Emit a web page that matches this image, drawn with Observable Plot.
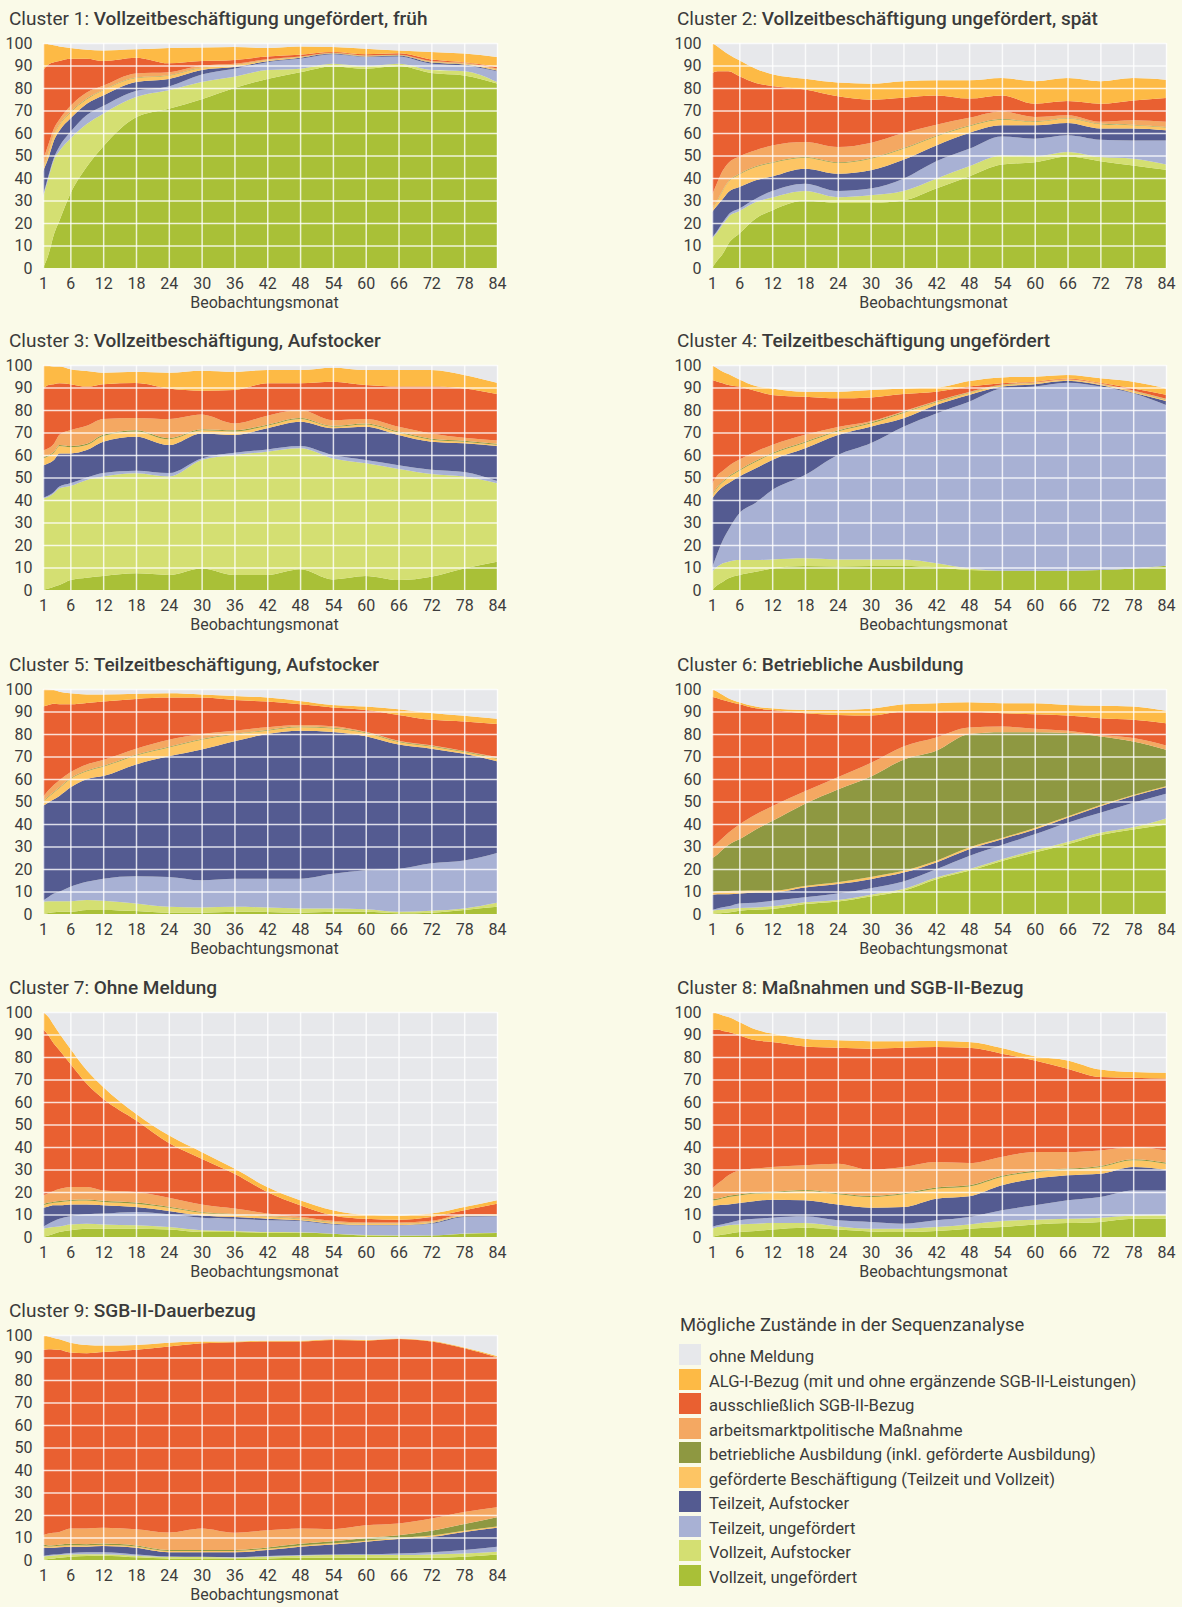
<!DOCTYPE html>
<html><head><meta charset="utf-8">
<script src="https://cdn.jsdelivr.net/npm/d3@7"></script>
<script src="https://cdn.jsdelivr.net/npm/@observablehq/plot@0.6"></script>
<style>
body{margin:0;background:#fafae8;}
#page{position:relative;width:1182px;height:1607px;background:#fafae8;font-family:Roboto,sans-serif;color:#3c3c3c;overflow:hidden;}
.title{position:absolute;font-size:19px;line-height:19px;white-space:nowrap;color:#3a3a3a;}
.title b{font-weight:500;}
.panel{position:absolute;}
.lg-title{position:absolute;left:680px;top:1316px;font-size:18.4px;line-height:18px;white-space:nowrap;color:#3a3a3a;}
.sw{position:absolute;left:679px;width:22px;height:21px;}
.lg{position:absolute;left:709px;font-size:16.6px;line-height:16px;white-space:nowrap;color:#3a3a3a;}
</style></head>
<body><div id="page"></div>
<script>
const months = [1, 2, 3, 4, 6, 9, 12, 18, 24, 30, 36, 42, 48, 54, 60, 66, 72, 78, 84];
// Zustände von unten nach oben gestapelt
const states = [
  "Vollzeit, ungefördert",
  "Vollzeit, Aufstocker",
  "Teilzeit, ungefördert",
  "Teilzeit, Aufstocker",
  "geförderte Beschäftigung (Teilzeit und Vollzeit)",
  "betriebliche Ausbildung (inkl. geförderte Ausbildung)",
  "arbeitsmarktpolitische Maßnahme",
  "ausschließlich SGB-II-Bezug",
  "ALG-I-Bezug (mit und ohne ergänzende SGB-II-Leistungen)",
  "ohne Meldung"
];
const colors = ["#a9c037", "#d4df72", "#a8b1d4", "#545b91", "#fdc564", "#8e9841", "#f4a862", "#e96031", "#fdba45", "#e7e8eb"];
const xTicks = [1, 6, 12, 18, 24, 30, 36, 42, 48, 54, 60, 66, 72, 78, 84];
const yTicks = [0, 10, 20, 30, 40, 50, 60, 70, 80, 90, 100];
const clusterNames = ["Cluster 1:", "Cluster 2:", "Cluster 3:", "Cluster 4:", "Cluster 5:", "Cluster 6:", "Cluster 7:", "Cluster 8:", "Cluster 9:"];
const clusterTitles = [
  "Vollzeitbeschäftigung ungefördert, früh",
  "Vollzeitbeschäftigung ungefördert, spät",
  "Vollzeitbeschäftigung, Aufstocker",
  "Teilzeitbeschäftigung ungefördert",
  "Teilzeitbeschäftigung, Aufstocker",
  "Betriebliche Ausbildung",
  "Ohne Meldung",
  "Maßnahmen und SGB-II-Bezug",
  "SGB-II-Dauerbezug"
];
const legendTitle = "Mögliche Zustände in der Sequenzanalyse";
const axisLabel = "Beobachtungsmonat";

// Obere Kante jedes Zustands (kumulierte Anteile in %), je Monat, Reihenfolge wie states[0..8]
const c1 = [
  [0, 31.5, 32.3, 43, 44.5, 44.8, 48, 88, 100],
  [6, 40, 41, 49, 51, 51.3, 55, 90.5, 99.5],
  [15, 48, 49, 56.7, 59, 59.3, 62, 91.5, 99],
  [21, 52, 54, 61, 63.5, 63.8, 66, 92, 98.5],
  [33, 57.5, 60.4, 66.4, 69, 69.3, 72, 93, 97.8],
  [45, 64, 68, 73, 75, 75.3, 78, 93, 97],
  [54, 68.6, 72, 76.7, 79, 79.2, 81, 92, 96.7],
  [67, 76, 78.7, 82.7, 84.5, 84.7, 86.5, 93.5, 97.2],
  [70.8, 79, 80.7, 84, 85.5, 85.7, 87, 91, 97.8],
  [75, 82.7, 86, 88, 89, 89.1, 90, 92, 98],
  [80, 85, 88.6, 89.3, 90, 90.1, 90.8, 92.5, 98.2],
  [84, 88, 91.5, 91.9, 92.3, 92.4, 92.8, 94, 97.8],
  [87, 88.6, 93, 93.5, 93.8, 93.9, 94, 94.8, 98.5],
  [89.6, 90.8, 95, 95.3, 95.5, 95.6, 95.7, 96, 98.2],
  [88.6, 89.6, 93.8, 94, 94.3, 94.4, 94.5, 95, 97.5],
  [89.8, 90.8, 94, 94.4, 94.6, 94.7, 94.8, 95.4, 96.7],
  [86.7, 88, 90.8, 91.3, 91.6, 91.7, 92, 92.7, 96],
  [85.6, 87.5, 90, 90.5, 90.8, 90.9, 91.2, 91.5, 95.3],
  [82, 82.7, 87.5, 87.8, 88.2, 88.3, 88.7, 89.5, 93.8]
];
const c2 = [
  [0, 13, 13.5, 24.9, 26.4, 26.7, 32.3, 86.7, 100],
  [3.4, 16, 16.7, 27.9, 30, 30.3, 38.2, 87.5, 98.5],
  [6.4, 19.4, 20.4, 30.8, 34.5, 34.8, 43.4, 87.4, 96.7],
  [10.8, 22.7, 23.7, 33.8, 38.2, 38.5, 46.7, 87.4, 95],
  [15.3, 25.3, 26.4, 36, 41.6, 41.9, 49.6, 85.2, 92.3],
  [22, 29.3, 30.8, 39, 44.9, 45.2, 52.3, 82.2, 88.6],
  [25.6, 31.3, 34.2, 40.7, 46.7, 47, 54.5, 80.9, 86.1],
  [30, 34.2, 37.5, 44.1, 49, 49.3, 56, 79.3, 84.1],
  [28.9, 31.5, 34.2, 41.9, 46.7, 47, 53.8, 76.3, 82.4],
  [28.9, 32.3, 35.3, 43.4, 48.6, 48.9, 55.6, 74.8, 81.9],
  [30, 34.2, 39.7, 48.1, 53, 53.3, 60, 75.7, 83],
  [35.3, 39.7, 47.4, 54.5, 58.5, 58.8, 63.7, 76.7, 83.4],
  [40.7, 45.2, 53, 60, 63, 63.3, 66.8, 75.3, 83.4],
  [46, 50, 58.5, 63.4, 65.9, 66.2, 69.6, 76.7, 84.4],
  [47, 49.6, 57.5, 63.4, 64.9, 65.2, 67.1, 73, 83],
  [49.6, 51.6, 59, 64.4, 66.4, 66.7, 67.9, 74.2, 84.4],
  [47.5, 49.3, 57, 62, 63.9, 64.2, 65, 73, 83],
  [45.6, 48.6, 56.7, 62, 63.4, 63.7, 65.7, 74.5, 84.4],
  [43.7, 46, 56.7, 61.2, 62.4, 62.7, 65, 75.6, 83.7]
];
const c3 = [
  [0, 40.7, 41, 55.3, 58.5, 59, 62, 89.6, 100],
  [0.7, 41.5, 42, 56.3, 59.5, 60, 63, 91.1, 99.7],
  [1.5, 43, 43.6, 57.8, 61, 61.5, 65, 91.5, 99.3],
  [2.2, 45.2, 46, 60.7, 64, 64.5, 69, 91.9, 99.3],
  [4.4, 46.2, 47.4, 60.7, 63.5, 64, 71, 91.5, 98.1],
  [5.5, 48.9, 50, 62.2, 64.5, 65, 73, 90.4, 97.3],
  [6.2, 50.4, 52, 65.9, 68.5, 69, 76, 91.5, 96.6],
  [7.4, 51.9, 53, 68.1, 70.5, 71, 76.5, 92, 97],
  [6.7, 50.4, 52, 64.4, 67, 67.5, 76, 89.6, 96.6],
  [9.6, 57.8, 58.5, 69.6, 71, 71.5, 78, 88.6, 97.5],
  [6.7, 60, 61, 68.9, 70.5, 71, 74, 88.9, 97],
  [6.7, 61.5, 62.5, 71.9, 73, 73.5, 77.5, 91.9, 97.8],
  [9.2, 63, 64, 74.8, 76, 76.5, 80, 91.9, 97.8],
  [4.7, 58.5, 60, 71.9, 72.6, 73, 75.5, 92.6, 98.8],
  [6.2, 56.3, 57.8, 72.6, 73.6, 74, 76, 91.1, 97.8],
  [4.4, 53.8, 55.5, 68.9, 70, 70.4, 72.6, 90.4, 97.8],
  [5.9, 51.6, 53.5, 65.9, 66.8, 67.2, 69.6, 90.4, 97.8],
  [9.6, 50.4, 52.5, 65.2, 65.9, 66.3, 67.7, 89.6, 95.6],
  [12.6, 47.4, 48.5, 64, 64.6, 65, 66.5, 87.1, 92.1]
];
const c4 = [
  [0, 8.1, 9.6, 40.7, 42, 42.4, 47, 93.3, 100],
  [2.2, 10.4, 16.3, 43.7, 45.5, 45.9, 51, 92.6, 98.5],
  [3.7, 11.9, 22.2, 45.9, 48, 48.4, 53, 91.9, 97],
  [5.2, 12.6, 26.7, 47.4, 50, 50.4, 55, 91.1, 96],
  [6.7, 13.3, 34.1, 50.4, 53, 53.4, 58, 90.4, 93.6],
  [8.1, 13.3, 38.8, 54.1, 57, 57.4, 61.5, 88.4, 90.7],
  [9.6, 13.6, 44.4, 57.8, 60.5, 60.9, 64.5, 86.7, 89.6],
  [10.7, 14.1, 51.1, 63, 65.5, 65.9, 69, 85.9, 88.1],
  [10.4, 13.6, 60, 68.9, 70.5, 70.9, 72.5, 85.2, 88.1],
  [10.7, 13.6, 65.2, 72.6, 74, 74.4, 75, 85.6, 88.9],
  [10.7, 13.6, 72.6, 76.3, 78.7, 79.1, 79.5, 87.1, 89.6],
  [10.1, 11.9, 78.5, 82.2, 83.5, 83.8, 84, 88.1, 90],
  [8.9, 9.6, 83.7, 86.7, 87.6, 87.8, 88, 90.4, 92.9],
  [8.6, 8.6, 89.6, 90.4, 91, 91.2, 91.3, 91.9, 94.5],
  [8.6, 8.6, 90.4, 91.5, 92, 92.1, 92.3, 92.6, 94.8],
  [8.6, 8.6, 92.1, 93, 93.4, 93.5, 93.7, 94, 95.6],
  [8.9, 8.9, 90.4, 91.1, 91.5, 91.6, 91.8, 92.1, 94.1],
  [9.6, 9.6, 87.4, 87.7, 88.3, 88.4, 88.7, 89.6, 92.6],
  [10.8, 10.8, 82.2, 84, 84.5, 84.7, 85, 86.8, 89.6]
];
const c5 = [
  [0, 5.4, 5.9, 48.1, 50, 50.3, 52, 92.2, 100],
  [0.5, 5.7, 7.6, 49.6, 52, 52.3, 55, 92.9, 99.9],
  [0.8, 5.7, 9.1, 51, 54, 54.3, 57.5, 93.4, 99.6],
  [1, 5.7, 9.9, 52.5, 56, 56.3, 59.5, 93.2, 98.8],
  [1, 5.7, 12.1, 56.2, 60, 60.3, 63, 93.2, 98.1],
  [1.8, 6.2, 14.3, 59.9, 63.5, 63.8, 66.5, 93.8, 97.6],
  [1.8, 5.9, 15.7, 61.3, 65.5, 65.8, 68.5, 94.4, 97.6],
  [1.3, 4.7, 16.8, 66.5, 70.5, 70.8, 73.5, 95.6, 97.9],
  [0.6, 3.2, 16.5, 70.1, 74, 74.3, 77.5, 96.2, 98.1],
  [0.6, 2.9, 15, 73.1, 77.5, 77.8, 80, 96.2, 97.6],
  [1, 3.2, 15.7, 76.8, 79.8, 80.1, 81.5, 95.1, 96.9],
  [0.9, 2.9, 15.7, 80, 81.5, 81.8, 83, 94.4, 96.2],
  [0.6, 2.5, 15.7, 81.5, 83, 83.3, 84, 93.2, 94.7],
  [1, 2.5, 17.9, 80.9, 82.5, 82.8, 83.5, 91.8, 92.9],
  [1, 2.1, 19.4, 79, 80.5, 80.8, 81, 90.7, 92.2],
  [0.3, 1, 20.1, 75.3, 76.5, 76.8, 77, 88.5, 91],
  [0.6, 1.5, 22.6, 73.5, 74.5, 74.8, 75, 86.3, 89.3],
  [1.8, 2.5, 23.8, 71.2, 72, 72.3, 72.5, 85.6, 88.1],
  [3.2, 5, 27.1, 67.9, 69, 69.3, 69.8, 84.4, 86.8]
];
const c6 = [
  [0, 1.5, 1.8, 8.6, 9.6, 24.8, 29.5, 96.6, 100],
  [0.3, 1.8, 2.5, 8.8, 10, 26.5, 31.7, 95.9, 98.8],
  [0.5, 2, 3, 8.8, 10.1, 28.8, 33.9, 95.1, 97.3],
  [0.7, 2.2, 3.4, 8.8, 10.2, 30.7, 36.1, 94.4, 95.9],
  [1.5, 2.7, 4.7, 9.1, 10.3, 33.2, 39.8, 93.2, 94.1],
  [1.9, 2.9, 5, 9.6, 10.4, 37.6, 44.2, 91.4, 92.2],
  [2.2, 3.4, 5.9, 9.6, 10.4, 41.3, 47.9, 90.7, 91.4],
  [4.4, 5.2, 7.4, 11.8, 12.5, 49, 54.6, 89.2, 90.7],
  [5.6, 6.2, 9.1, 13.3, 14.1, 55.3, 60.8, 88.5, 90.7],
  [7.8, 8.6, 11.5, 15.5, 16.5, 61, 67.1, 88.2, 91.2],
  [10.3, 11.1, 14.5, 18.4, 19.2, 68.6, 74.5, 90, 93.2],
  [15.5, 16.2, 19.9, 22.9, 23.7, 72.6, 78.5, 89.7, 93.7],
  [19.2, 19.9, 25.8, 28.8, 29.6, 80, 82.9, 90, 94.1],
  [23.6, 24.3, 30.7, 33.2, 33.8, 80.8, 83.3, 89.2, 93.7],
  [27.3, 28.3, 35.4, 37.6, 38.2, 80.8, 82.3, 88.8, 93.7],
  [31, 32, 40.6, 42.8, 43.3, 80.4, 81.4, 88.2, 92.9],
  [35.1, 36.1, 45, 47.9, 48.4, 78.9, 79.6, 87, 92.6],
  [37.6, 38.6, 49.4, 52.4, 52.9, 76.7, 78.2, 86.3, 92.2],
  [39.8, 42.5, 53.4, 56.3, 56.8, 73, 74.9, 84.8, 90.3]
];
const c7 = [
  [0, 3.7, 4.4, 13, 14, 14.5, 18.5, 92.6, 100],
  [0.7, 4.1, 5.9, 13.6, 14.8, 15.3, 19.5, 89.6, 97.8],
  [1.5, 4.4, 7.1, 14.1, 15.2, 15.7, 20.5, 85.9, 94.1],
  [2.2, 4.7, 8.1, 14.1, 15.5, 16, 21.3, 83, 90.4],
  [3, 5.6, 9.2, 14.5, 16, 16.5, 22.2, 77, 83.7],
  [3.7, 5.9, 10.1, 14.5, 16.2, 16.7, 22.2, 68.1, 74.1],
  [3.7, 5.6, 10.4, 14.1, 15.6, 16.1, 20.7, 61.5, 66.7],
  [3.7, 5.2, 11.1, 13.3, 14.8, 15.3, 20, 51.9, 54.8],
  [3.3, 4.4, 10.1, 11.6, 13, 13.4, 17.5, 41.8, 45.2],
  [2.2, 3, 8.6, 9.6, 10.8, 11.1, 14.5, 34.8, 37.8],
  [2.2, 2.7, 8.1, 8.9, 10, 10.2, 12.7, 28.1, 30.4],
  [1.9, 2.2, 7.4, 8.1, 9, 9.2, 10.5, 20, 22.2],
  [1.9, 2.1, 7.1, 7.4, 8, 8.2, 9, 14.1, 16.3],
  [1.5, 1.5, 5.6, 5.9, 6.5, 6.6, 7.2, 9.6, 11.9],
  [0.7, 0.9, 5.2, 5.3, 5.9, 6, 6.5, 8.1, 9.9],
  [0.6, 0.7, 5.2, 5.3, 5.9, 6, 6.5, 7.7, 9.6],
  [0.7, 0.7, 5.9, 6.2, 6.6, 6.7, 7.2, 8.9, 10.4],
  [1.5, 1.6, 8.9, 9.2, 9.6, 9.7, 10, 11.9, 13.3],
  [1.8, 1.9, 9.2, 9.3, 9.6, 9.7, 10.2, 14.8, 16.3]
];
const c8 = [
  [0, 3.7, 4.4, 13.6, 16.3, 16.8, 21.5, 91.9, 100],
  [0.7, 4.4, 5.2, 14.1, 16.6, 17.1, 23.7, 92.2, 99.3],
  [1.1, 4.8, 5.7, 14.3, 17.2, 17.7, 25.5, 91.6, 98.5],
  [1.5, 5.2, 6.2, 14.5, 17.8, 18.3, 27.4, 91.1, 97.8],
  [2.2, 5.6, 7.4, 15.1, 18.5, 19, 29.6, 89.6, 95.6],
  [2.7, 5.9, 8.1, 16, 19.3, 19.8, 30.4, 87.4, 92.2],
  [3.3, 6.2, 8.6, 16.6, 19.6, 20.1, 31.1, 86.7, 90.4],
  [4.1, 6.2, 9.2, 16.3, 20.4, 20.9, 31.9, 84.7, 88.1],
  [3.3, 4.7, 7.4, 14.4, 19, 19.5, 32.6, 84.1, 87.4],
  [2.5, 3.7, 6.7, 13, 17.8, 18.3, 29.9, 83.7, 87],
  [2.2, 3.7, 5.9, 13.3, 19, 19.5, 31.1, 84.1, 87],
  [2.7, 4.4, 7.4, 17, 21.5, 22, 33.3, 84.4, 87.1],
  [3.7, 5.6, 8.9, 18.1, 22.5, 23, 32.9, 84.1, 86.7],
  [4.4, 7.1, 11.9, 23, 26.7, 27.2, 35.6, 81.5, 84],
  [5.6, 7.7, 14.1, 25.9, 28.9, 29.4, 37.8, 78.5, 80.3],
  [6.2, 8.1, 16.3, 27.4, 29.9, 30.4, 37.8, 74.8, 78.5],
  [6.7, 8.6, 17.8, 28.1, 31.1, 31.6, 38.5, 71.1, 74.4],
  [8.1, 9.6, 20.7, 31.1, 34.1, 34.6, 40, 70.8, 73.3],
  [8.1, 9.9, 20.7, 29.9, 32.6, 33.1, 38.5, 70.4, 73]
];
const c9 = [
  [0, 1.5, 1.8, 5.4, 6.2, 7, 11, 93.4, 100],
  [0.4, 1.8, 2.2, 5.4, 6, 6.5, 11.8, 93.7, 99.3],
  [0.7, 2, 2.4, 5.5, 6.1, 6.6, 12.1, 93.6, 98.7],
  [1, 2.2, 2.6, 5.7, 6.3, 6.8, 12.5, 93.4, 98.1],
  [1.5, 2.5, 3.1, 5.9, 6.6, 7.2, 14, 92.2, 96.6],
  [1.8, 2.6, 3.4, 5.9, 6.5, 7, 14, 91.9, 95.6],
  [1.9, 2.6, 3.4, 6.2, 6.8, 7.3, 14.3, 92.4, 95.3],
  [1.2, 1.9, 2.5, 5.4, 6, 6.5, 13.7, 93.4, 95.6],
  [0.7, 1.3, 1.6, 3.4, 4, 4.5, 12.2, 94.9, 96.6],
  [0.7, 1.3, 1.5, 3.4, 4, 4.5, 14, 96.3, 97.1],
  [0.7, 1, 1.3, 3.4, 4, 4.5, 12.1, 96.8, 97.1],
  [0.7, 1.5, 1.8, 4.4, 5, 5.6, 13.2, 97.1, 97.5],
  [1, 1.9, 2.2, 5.9, 6.5, 7.2, 14, 97.1, 97.4],
  [1, 2.2, 2.5, 6.9, 7.4, 8.3, 13.7, 97.8, 98.1],
  [1, 2.2, 2.6, 8.1, 8.6, 9.8, 15.4, 97.5, 97.8],
  [1, 2.2, 2.9, 9.3, 9.8, 11, 16.2, 98.2, 98.5],
  [1, 2.5, 3.4, 10.3, 10.9, 13, 18.4, 97.1, 97.4],
  [1.5, 2.9, 4.4, 12.5, 13, 16, 21.3, 94.1, 94.4],
  [2.5, 3.7, 5.9, 14.3, 14.9, 19, 23.5, 90.1, 90.7]
];
const clusters = [c1, c2, c3, c4, c5, c6, c7, c8, c9];

const page = document.getElementById("page");
const plotTops = [43, 365, 689, 1012, 1335];
const plotLefts = [43, 712];
const mL = 43, mR = 16, mT = 10, mB = 50, pw = 454, ph = 225;

function makePanel(tops) {
  const rows = [];
  tops.forEach((t, j) => {
    for (let k = 0; k < states.length; k++) {
      rows.push({month: months[j], state: states[k], lo: k === 0 ? 0 : t[k - 1], hi: k < 9 ? t[k] : 100});
    }
  });
  return Plot.plot({
    width: mL + pw + mR, height: mT + ph + mB,
    marginLeft: mL, marginRight: mR, marginTop: mT, marginBottom: mB,
    style: {background: "transparent", fontFamily: "Roboto, sans-serif", fontSize: "16px", color: "#3c3c3c", overflow: "visible"},
    x: {domain: [1, 84]},
    y: {domain: [0, 100]},
    color: {domain: states, range: colors},
    marks: [
      Plot.areaY(rows, {x: "month", y1: "lo", y2: "hi", z: "state", fill: "state", curve: "monotone-x"}),
      Plot.ruleX(xTicks, {stroke: "white", strokeOpacity: 0.8, strokeWidth: 1.5}),
      Plot.ruleY(yTicks.slice(1), {stroke: "white", strokeOpacity: 0.8, strokeWidth: 1.5}),
      Plot.axisY(yTicks, {tickSize: 0, tickPadding: 11, fontSize: 16, label: null, fill: "#3c3c3c"}),
      Plot.axisX(xTicks, {tickSize: 0, tickPadding: 9, fontSize: 16, label: null, fill: "#3c3c3c"}),
      Plot.text([axisLabel], {frameAnchor: "bottom", lineAnchor: "bottom", text: d => d, dy: 39, dx: -6, fontSize: 16, fill: "#3c3c3c"})
    ]
  });
}

clusters.forEach((tops, i) => {
  const col = i % 2, row = Math.floor(i / 2);
  const pl = plotLefts[col], pt = plotTops[row];
  const t = document.createElement("div");
  t.className = "title";
  t.style.left = (col ? 677 : 9) + "px";
  t.style.top = (pt - 34) + "px";
  t.innerHTML = `<span>${clusterNames[i]}</span> <b>${clusterTitles[i]}</b>`;
  page.appendChild(t);
  const d = document.createElement("div");
  d.className = "panel";
  d.style.left = (pl - mL) + "px";
  d.style.top = (pt - mT) + "px";
  d.appendChild(makePanel(tops));
  page.appendChild(d);
});

// Legende
const lt = document.createElement("div");
lt.className = "lg-title";
lt.textContent = legendTitle;
page.appendChild(lt);
const legendOrder = states.map((s, k) => k).reverse();
legendOrder.forEach((k, i) => {
  const top = 1344 + 24.5 * i;
  const sw = document.createElement("div");
  sw.className = "sw";
  sw.style.top = top + "px";
  sw.style.background = colors[k];
  page.appendChild(sw);
  const lb = document.createElement("div");
  lb.className = "lg";
  lb.style.top = (top + 5) + "px";
  lb.textContent = states[k];
  page.appendChild(lb);
});
</script>
</body></html>
